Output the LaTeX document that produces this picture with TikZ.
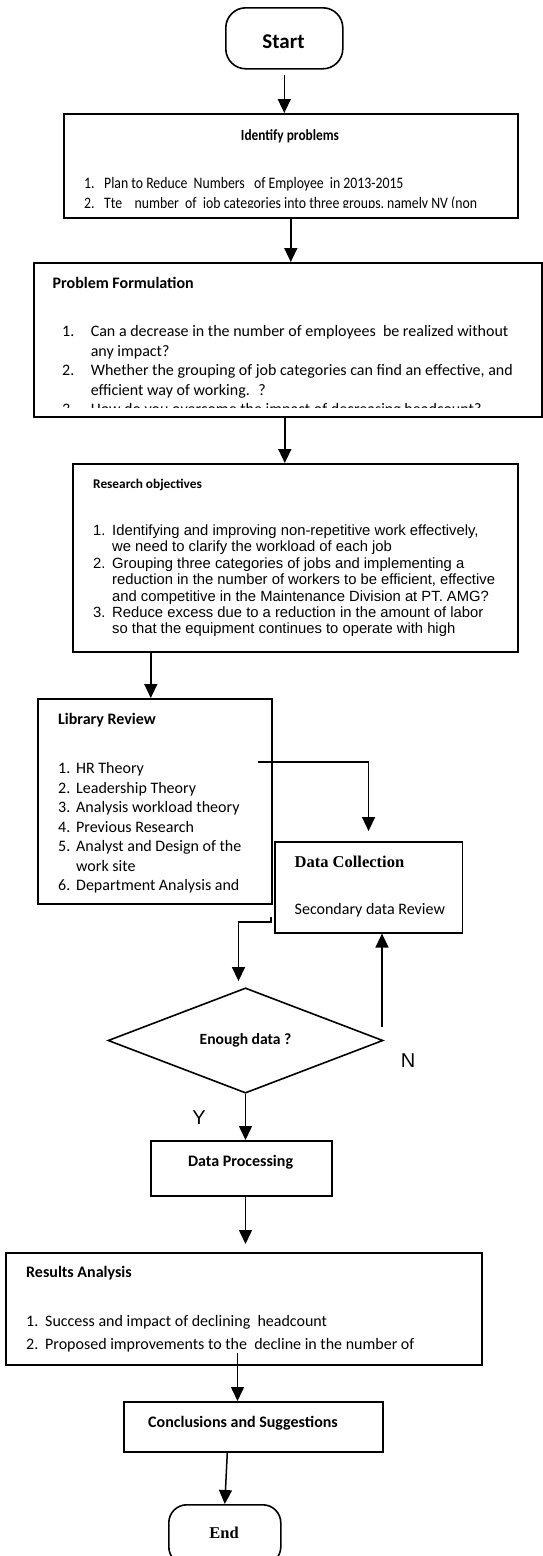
\documentclass[tikz,border=0pt]{standalone}
\usepackage{fontspec}
\setmainfont{Carlito}
\newfontfamily\arialf{Liberation Sans}
\newfontfamily\cambriaf{Liberation Serif}
\usetikzlibrary{arrows.meta,shapes.geometric}
\newcommand\fsz[2]{\fontsize{#1}{#2}\selectfont}
\newcommand\nbox[2]{\makebox[#1][l]{#2}}
\begin{document}
\begin{tikzpicture}[x=1pt,y=-1pt,
  box/.style={draw, line width=1.6pt, inner sep=0pt, anchor=north west},
  txt/.style={inner sep=0pt, anchor=base west},
  ctxt/.style={inner sep=0pt, anchor=base},
  arr/.style={line width=1.5pt, -{Triangle[length=14pt,width=13pt]}}]
\fill[white] (0,0) rectangle (542,1556);
\useasboundingbox (0,0) rectangle (542,1556);

% ---- boxes ----
\node[box, rounded corners=20pt, minimum width=117pt, minimum height=61pt] (start) at (225,7) {};
\node[box, minimum width=454pt, minimum height=104pt] (idp) at (63,113) {};
\node[box, minimum width=508pt, minimum height=154pt] (pf) at (33,262) {};
\node[box, minimum width=445pt, minimum height=188pt] (ro) at (72,463) {};
\node[box, minimum width=234pt, minimum height=205pt] (lib) at (37,698) {};
\node[box, minimum width=187.5pt, minimum height=91pt] (dc) at (274,841) {};
\node[draw, diamond, line width=1.6pt, inner sep=0pt, minimum width=275pt, minimum height=97pt,
      font=\bfseries\fsz{15.6}{16}] (dia) at (245.5,1040.5) {Enough data ?};
\node[box, minimum width=181pt, minimum height=55pt] (dp) at (150,1140) {};
\node[box, minimum width=476pt, minimum height=112pt] (ra) at (5,1252) {};
\node[box, minimum width=259pt, minimum height=50pt] (cs) at (123,1401) {};
\node[box, rounded corners=18pt, minimum width=112pt, minimum height=60pt] (end) at (168,1504) {};

% ---- texts ----
\node[ctxt, font=\bfseries\fsz{21}{21}] (tstart) at (283.5,48) {Start};

\node[ctxt] (tidp) at (290,140) {\scalebox{0.86}[1]{\bfseries\fsz{15.5}{16}Identify problems}};
\begin{scope}
\clip (63,113) rectangle (517,207.5);
\node[txt] (lidp) at (84,188.8) {\scalebox{0.86}[1]{\fsz{16}{19.5}%
  \begin{tabular}[t]{@{}l@{}l@{}}
  \nbox{23.3pt}{1.} & Plan to Reduce~ Numbers~~ of Employee~ in 2013-2015\\
  \nbox{23.3pt}{2.} & Tte~~~ number~ of~ job categories into three groups, namely NV (non
  \end{tabular}}};
\end{scope}

\node[txt, font=\bfseries\fsz{16}{16}] (tpf) at (52.5,288) {Problem Formulation};
\begin{scope}
\clip (33,262) rectangle (541,407.5);
\node[txt] (lpf) at (62,336.8) {\fsz{16}{19.5}%
  \begin{tabular}[t]{@{}l@{}l@{}}
  \nbox{28.6pt}{1.} & Can a decrease in the number of employees~ be realized without\\
   & any impact?\\
  \nbox{28.6pt}{2.} & Whether the grouping of job categories can find an effective, and\\
   & efficient way of working.~ ?\\
  \nbox{28.6pt}{3.} & How do you overcome the impact of decreasing headcount?
  \end{tabular}};
\end{scope}

\node[txt, font=\bfseries\fsz{13.3}{14}] (tro) at (93,488) {Research objectives};
\node[txt] (lro) at (93,535.5) {\arialf\fsz{14.8}{16.4}%
  \begin{tabular}[t]{@{}l@{}l@{}}
  \nbox{19pt}{1.} & Identifying and improving non-repetitive work effectively,\\
   & we need to clarify the workload of each job\\
  \nbox{19pt}{2.} & Grouping three categories of jobs and implementing a\\
   & reduction in the number of workers to be efficient, effective\\
   & and competitive in the Maintenance Division at PT. AMG?\\
  \nbox{19pt}{3.} & Reduce excess due to a reduction in the amount of labor\\
   & so that the equipment continues to operate with high
  \end{tabular}};

\node[txt, font=\bfseries\fsz{16}{16}] (tlib) at (58,724.8) {Library Review};
\node[txt] (llib) at (58,773.8) {\fsz{16}{19.5}%
  \begin{tabular}[t]{@{}l@{}l@{}}
  \nbox{18pt}{1.} & HR Theory\\
  \nbox{18pt}{2.} & Leadership Theory\\
  \nbox{18pt}{3.} & Analysis workload theory\\
  \nbox{18pt}{4.} & Previous Research\\
  \nbox{18pt}{5.} & Analyst and Design of the\\
   & work site\\
  \nbox{18pt}{6.} & Department Analysis and
  \end{tabular}};

\node[txt, font=\cambriaf\bfseries\fsz{16.5}{17}] (tdc) at (294.5,867) {Data Collection};
\node[txt, font=\fsz{16}{16}] (ldc) at (294.5,914.8) {Secondary data Review};

\node[ctxt, font=\bfseries\fsz{16}{16}] (tdp) at (240.6,1166.8) {Data Processing};

\node[txt, font=\bfseries\fsz{16}{16}] (tra) at (26,1277.8) {Results Analysis};
\node[txt] (lra) at (26,1326.8) {\fsz{16}{23}%
  \begin{tabular}[t]{@{}l@{}l@{}}
  \nbox{19pt}{1.} & Success and impact of declining~ headcount\\
  \nbox{19pt}{2.} & Proposed improvements to the~ decline in the number of
  \end{tabular}};

\node[ctxt, font=\bfseries\fsz{16}{16}] (tcs) at (243,1427.8) {Conclusions and Suggestions};
\node[ctxt, font=\cambriaf\bfseries\fsz{16.5}{17}] (tend) at (224,1538.5) {End};

\node[ctxt, font=\arialf\fsz{20}{20}] (lN) at (408,1067.5) {N};
\node[ctxt, font=\arialf\fsz{20}{20}] (lY) at (199,1124) {Y};

% ---- connectors ----
\coordinate (c1) at (258,762);
\coordinate (c2) at (271,917);
\coordinate (c3) at (238.5,922);
\coordinate (c4) at (382,1027);
\coordinate (c5) at (237.5,1353);

\draw[arr, shorten <=5pt] (start.south) -- (start.south |- idp.north);
\draw[arr] (idp.south) -- (idp.south |- pf.north);
\draw[arr] ([xshift=-3pt]pf.south) -- ([xshift=-3pt]pf.south |- ro.north);
\draw[arr] ([xshift=-4pt]lib.north |- ro.south) -- ([xshift=-4pt]lib.north);
\draw[arr, shorten >=10pt] (c1) -| (dc.north);
\draw[arr, shorten >=6pt] (c2) -- (c2 |- c3) -- (c3) -- (c3 |- dia.north);
\draw[arr] (c4) -- (c4 |- dc.south);
\draw[arr] (dia.south) -- (dia.south |- dp.north);
\draw[arr, shorten >=8pt] (dia.south |- dp.south) -- (dia.south |- ra.north);
\draw[arr] (c5) -- (c5 |- cs.north);
\draw[arr] ([xshift=-26pt]cs.south) -- (end.north);
\end{tikzpicture}
\end{document}
